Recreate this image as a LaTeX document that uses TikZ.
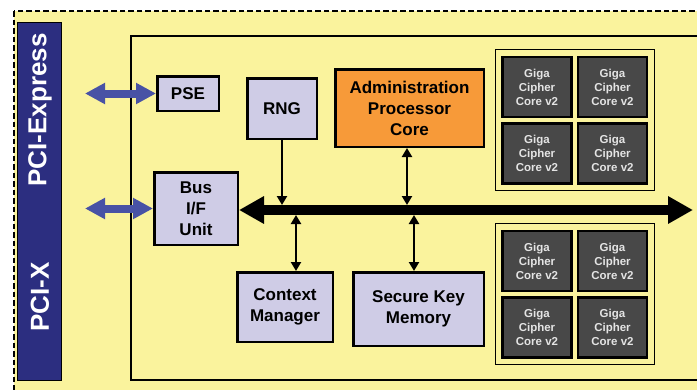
\documentclass[tikz,border=0pt]{standalone}
\usepackage{fontspec}
\setmainfont{Liberation Sans}
\usetikzlibrary{positioning, arrows.meta, fit}

\definecolor{chipyellow}{RGB}{250,243,157}
\definecolor{blocklav}{RGB}{207,204,230}
\definecolor{apcorange}{RGB}{247,154,57}
\definecolor{pcinavy}{RGB}{44,46,128}
\definecolor{linkblue}{RGB}{72,82,165}
\definecolor{gigagray}{RGB}{72,72,72}
\definecolor{gigatext}{RGB}{228,228,228}

\begin{document}
\begin{tikzpicture}[
    x=1pt, y=-1pt,
    node distance=4pt and 4pt,
    blk/.style={draw, line width=2.5pt, fill=blocklav, inner sep=0pt, align=center, font=\fontsize{17}{21}\selectfont\bfseries},
    giga/.style={draw, line width=2.5pt, fill=gigagray, text=gigatext, minimum width=69pt, minimum height=60pt, inner sep=0pt, align=center, font=\fontsize{11.5}{14}\selectfont\bfseries},
    grp/.style={draw, line width=0.8pt, inner sep=6pt},
    pcitext/.style={rotate=90, text=white, font=\fontsize{26}{30}\selectfont\bfseries},
    bus/.style={line width=10pt, {Triangle[length=25pt, width=26pt]}-{Triangle[length=25pt, width=26pt]}},
    link/.style={line width=8pt, color=linkblue, {Triangle[length=20pt, width=20pt]}-{Triangle[length=20pt, width=20pt]}},
    arr/.style={line width=2.5pt, -{Triangle[length=9pt, width=10pt]}},
    darr/.style={line width=2.5pt, {Triangle[length=9pt, width=10pt]}-{Triangle[length=9pt, width=10pt]}},
]
\useasboundingbox (0,0) rectangle (697,389);
\clip (0,0) rectangle (697,389);

% Chip outline and core area
\draw[line width=2.6pt, dash pattern=on 5.5pt off 3pt, fill=chipyellow] (14,11) rectangle (740,420);
\draw[line width=1.5pt] (131,36) rectangle (740,380);

% PCI side bar
\node[draw, line width=1pt, fill=pcinavy, minimum width=44pt, minimum height=358pt, inner sep=0pt] (pcibar) at (39.5,201.5) {};
\node[pcitext] (pcie-lbl) at (40,110) {PCI-Express};
\node[pcitext] (pcix-lbl) at (40,297) {PCI-X};

% Blocks
\node[blk, minimum width=61.5pt, minimum height=34.5pt] (pse) at (188,93.5) {PSE};
\node[blk, minimum width=83.5pt, minimum height=72.5pt] (busif) at (196,208.5) {Bus\\I/F\\Unit};
\node[blk, minimum width=69.5pt, minimum height=60.5pt] (rng) at (282,108.5) {RNG};
\node[blk, fill=apcorange, minimum width=148.5pt, minimum height=77.5pt] (apc) at (409.5,108) {Administration\\Processor\\Core};
\node[blk, minimum width=95.5pt, minimum height=69.5pt] (ctx) at (285,307) {Context\\Manager};
\node[blk, minimum width=130.5pt, minimum height=73.5pt] (skm) at (418.5,309) {Secure Key\\Memory};

% Cipher cores, top group
\node[giga] (gcc-a) at (537,87) {Giga\\Cipher\\Core v2};
\node[giga, right=of gcc-a] (gcc-b) {Giga\\Cipher\\Core v2};
\node[giga, below=of gcc-a] (gcc-c) {Giga\\Cipher\\Core v2};
\node[giga, right=of gcc-c] (gcc-d) {Giga\\Cipher\\Core v2};
\node[grp, fit=(gcc-a) (gcc-d)] (gcc-top) {};

% Cipher cores, bottom group
\node[giga] (gcc-e) at (537,261) {Giga\\Cipher\\Core v2};
\node[giga, right=of gcc-e] (gcc-f) {Giga\\Cipher\\Core v2};
\node[giga, below=of gcc-e] (gcc-g) {Giga\\Cipher\\Core v2};
\node[giga, right=of gcc-g] (gcc-h) {Giga\\Cipher\\Core v2};
\node[grp, fit=(gcc-e) (gcc-h)] (gcc-bot) {};

% Internal bus
\coordinate (busend) at (693,210);
\coordinate (bustop) at (0,205);
\coordinate (busbot) at (0,215);
\draw[bus] (busif.east |- busend) -- (busend);

% Host links
\coordinate (pcie-end) at (85,93.5);
\coordinate (pcix-end) at (85,208.5);
\draw[link] (pcie-end) -- (pse.west);
\draw[link] (pcix-end) -- (busif.west);

% Bus taps
\draw[arr] (rng.south) -- (rng.south |- bustop);
\draw[darr] ([xshift=-2.5pt]apc.south) -- ([xshift=-2.5pt]apc.south |- bustop);
\draw[darr] ([xshift=11pt]ctx.north |- busbot) -- ([xshift=11pt]ctx.north);
\draw[darr] ([xshift=-4.5pt]skm.north |- busbot) -- ([xshift=-4.5pt]skm.north);

\end{tikzpicture}
\end{document}
